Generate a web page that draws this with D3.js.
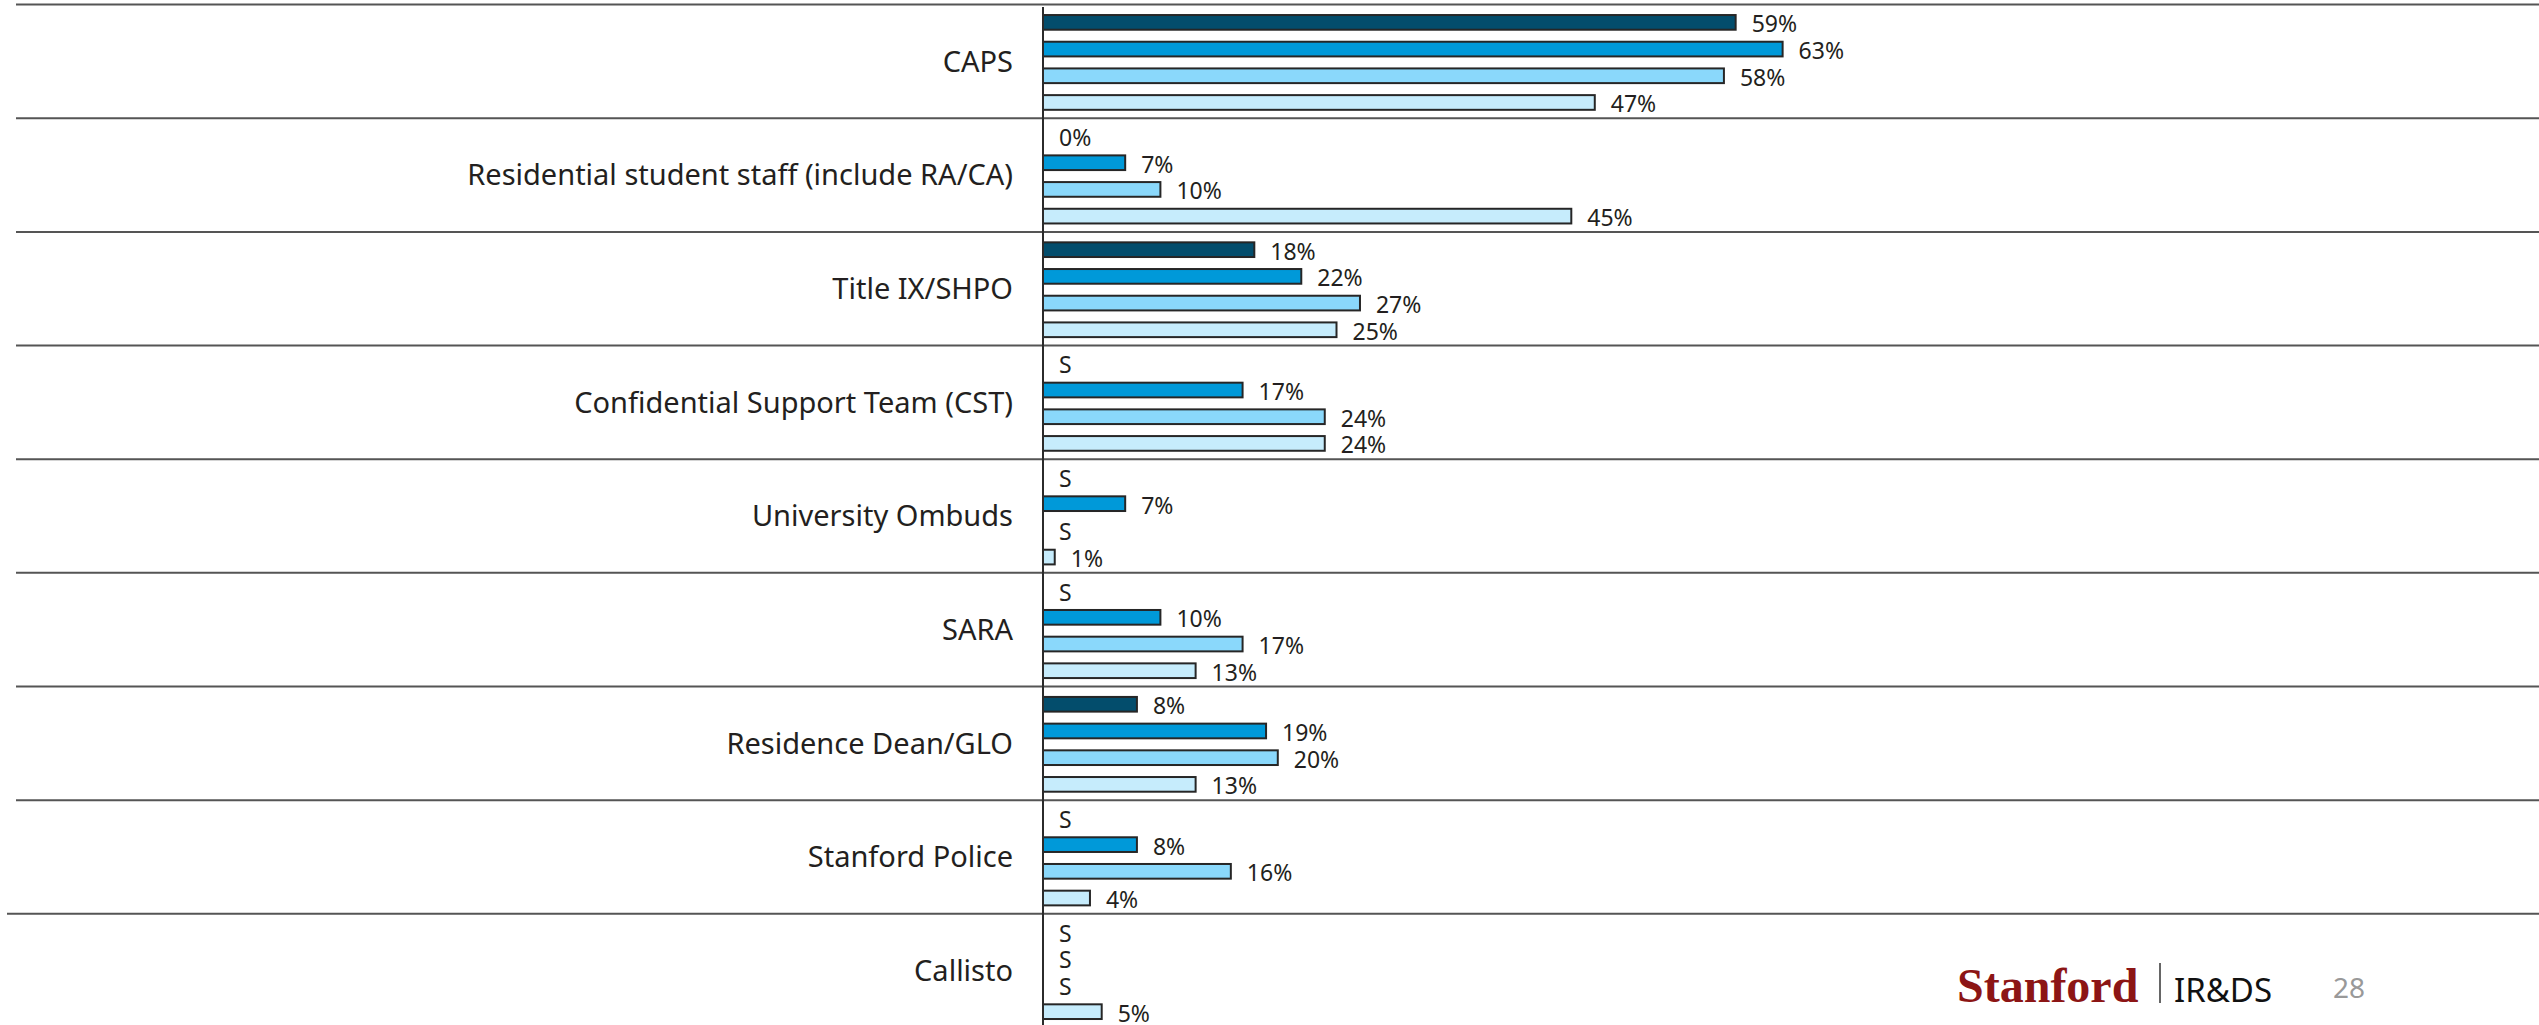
<!DOCTYPE html>
<html>
<head>
<meta charset="utf-8">
<script src="https://cdn.jsdelivr.net/npm/d3@7"></script>
<style>
  body { margin: 0; background: #fff; }
  svg { display: block; font-family: "Noto Sans", sans-serif; }
</style>
</head>
<body>
<svg id="chart" width="2539" height="1025"></svg>
<script>
// data, "S" = suppressed (null)
const categories = [
  "CAPS",
  "Residential student staff (include RA/CA)",
  "Title IX/SHPO",
  "Confidential Support Team (CST)",
  "University Ombuds",
  "SARA",
  "Residence Dean/GLO",
  "Stanford Police",
  "Callisto"
];
const seriesNames = ["Group 1", "Group 2", "Group 3", "Group 4"];
const group1 = [59, 0, 18, null, null, null, 8, null, null];
const group2 = [63, 7, 22, 17, 7, 10, 19, 8, null];
const group3 = [58, 10, 27, 24, null, 17, 20, 16, null];
const group4 = [47, 45, 25, 24, 1, 13, 13, 4, 5];
const seriesColors = ["#034d6c", "#0099d9", "#8ad8fb", "#c6ecfc"];

const values = [group1, group2, group3, group4];

const svg = d3.select("#chart");
const W = 2539, H = 1025;
const axisX = 1043;

const x = d3.scaleLinear().domain([0, 100]).range([axisX, axisX + 1174]);
const y = d3.scaleBand().domain(categories).range([5.6, 5.6 + 9 * 113.65]).padding(0);
const y1 = d3.scaleBand().domain(seriesNames).range([0, y.bandwidth()])
  .paddingInner(0.375).paddingOuter(0.316);

// rows: one entry per bar
const rows = [];
categories.forEach((c, i) => {
  seriesNames.forEach((s, j) => {
    rows.push({cat: c, series: s, idx: j, v: values[j][i]});
  });
});

// separator lines between categories
svg.append("g").selectAll("line")
  .data(categories)
  .join("line")
  .attr("x1", (d, i) => i === categories.length - 1 ? 7 : 16)
  .attr("x2", W)
  .attr("y1", d => y(d) - 1)
  .attr("y2", d => y(d) - 1)
  .attr("stroke", "#555")
  .attr("stroke-width", 2);

// bars
const g = svg.append("g");
g.selectAll("rect")
  .data(rows.filter(d => d.v != null))
  .join("rect")
  .attr("x", x(0))
  .attr("y", d => y(d.cat) + y1(d.series) + 1)
  .attr("width", d => x(d.v) - x(0))
  .attr("height", y1.bandwidth() - 2)
  .attr("fill", d => seriesColors[d.idx])
  .attr("stroke", "#262626")
  .attr("stroke-width", 2);

// value labels
g.selectAll("text")
  .data(rows)
  .join("text")
  .attr("x", d => (d.v == null ? x(0) : x(d.v)) + 16)
  .attr("y", d => y(d.cat) + y1(d.series) + y1.bandwidth() / 2 + 1)
  .attr("dominant-baseline", "central")
  .attr("font-size", 23)
  .attr("fill", "#231f20")
  .text(d => d.v == null ? "S" : d.v + "%");

// category axis
const axis = svg.append("g")
  .attr("transform", `translate(${axisX},0)`)
  .call(d3.axisLeft(y).tickSize(0).tickSizeOuter(0).tickPadding(30));
axis.select(".domain").attr("stroke", "#2b2b2b").attr("stroke-width", 2)
  .attr("d", `M0,7V${H}`);
axis.selectAll("text")
  .attr("font-size", 29)
  .attr("font-family", "'Noto Sans', sans-serif")
  .attr("fill", "#231f20");

// footer
const foot = svg.append("g");
foot.append("text")
  .attr("x", 1957).attr("y", 1002)
  .attr("font-family", "'Liberation Serif', serif")
  .attr("font-weight", "bold")
  .attr("font-size", 48)
  .attr("fill", "#8c1515")
  .text("Stanford");
foot.append("line")
  .attr("x1", 2160).attr("x2", 2160)
  .attr("y1", 963).attr("y2", 1003)
  .attr("stroke", "#333").attr("stroke-width", 1.5);
foot.append("text")
  .attr("x", 2174).attr("y", 1002)
  .attr("font-size", 33)
  .attr("fill", "#111")
  .text("IR&DS");
foot.append("text")
  .attr("x", 2333).attr("y", 998)
  .attr("font-size", 28)
  .attr("fill", "#999")
  .text("28");
</script>
</body>
</html>
